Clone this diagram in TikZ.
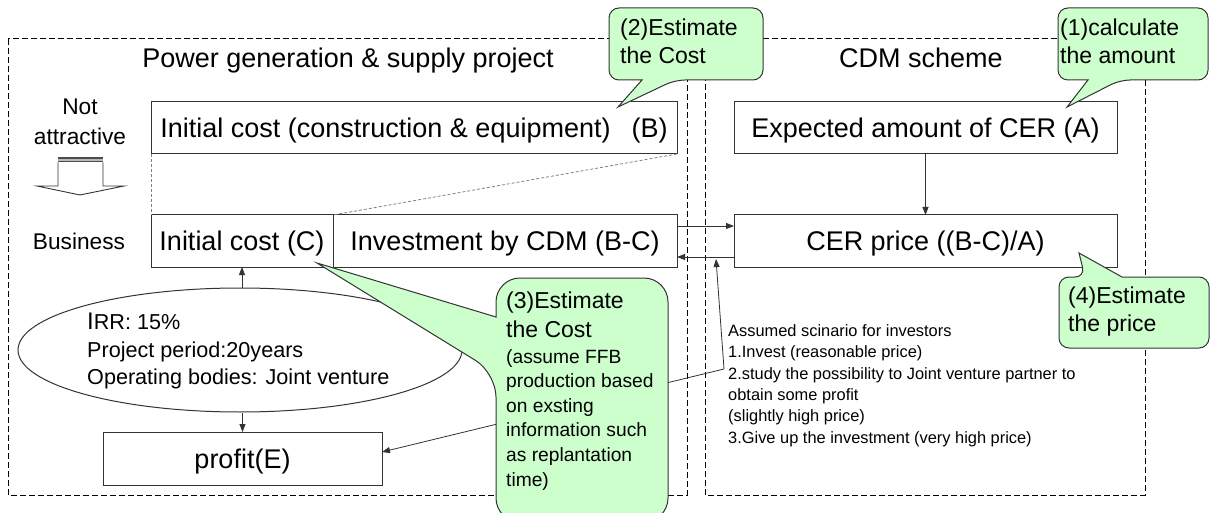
\documentclass[tikz,border=0pt]{standalone}
\usepackage{fontspec}
\setmainfont{Liberation Sans}
\usetikzlibrary{arrows.meta,shapes.geometric}
\definecolor{notegreen}{HTML}{CCFFCC}
\definecolor{edge}{HTML}{333333}
\newcommand{\setfs}[2]{\fontsize{#1}{#2}\selectfont}

\begin{document}
\begin{tikzpicture}[x=1pt,y=-1pt,
  box/.style={draw=edge, line width=1pt, inner sep=0pt, outer sep=0pt,
              font=\setfs{27}{32}, text height=19.5pt, text depth=0pt},
  frame/.style={draw=black, line width=1pt, dash pattern=on 6pt off 3pt},
  guide/.style={draw=gray, line width=0.8pt, dash pattern=on 3pt off 2pt},
  arr/.style={-{Triangle[length=8pt,width=6pt]}, line width=0.8pt, draw=edge},
  note/.style={fill=notegreen, draw=edge, line width=1pt},
  notetext/.style={anchor=north west, inner sep=0pt, align=left, font=\setfs{23}{28}},
  plain/.style={inner sep=0pt}
]
\useasboundingbox (0,0) rectangle (1210,513);
\clip (0,0) rectangle (1210,513);

% two dashed frames
\draw[frame] (8,39) rectangle (687,495);
\draw[frame] (705,39) rectangle (1145,495);

% frame titles
\node[plain, anchor=base, font=\setfs{27}{32}] (ptitle) at (348,68) {Power generation \& supply project};
\node[plain, anchor=base, font=\setfs{27}{32}] (ctitle) at (921,68) {CDM scheme};

% cost boxes
\node[box, minimum width=526pt, minimum height=52pt] (B) at (414,128)
  {Initial cost (construction \& equipment)\hspace{21pt}(B)};
\node[box, minimum width=182pt, minimum height=52pt] (C) at (242,241) {Initial cost (C)};
\node[box, minimum width=344pt, minimum height=52pt] (BC) at (505,241) {Investment by CDM (B-C)};
\node[box, minimum width=279pt, minimum height=53pt] (profit) at (242.5,458.5) {profit(E)};

% CDM boxes
\node[box, minimum width=383pt, minimum height=52pt] (A) at (925.5,128) {Expected amount of CER (A)};
\node[box, minimum width=383pt, minimum height=52pt] (CER) at (925.5,241) {CER price ((B-C)/A)};

% guide lines from B down to the split boxes
\draw[guide] (B.south west) -- (C.north west);
\draw[guide] (B.south east) -- (BC.north west);

% side labels and hollow arrow
\node[plain, anchor=north, align=center, font=\setfs{22.7}{30}] (notattr) at (80,98.7) {Not\\attractive};
\node[plain, anchor=base, font=\setfs{22.7}{30}] (business) at (79,249) {Business};
\fill[black!70] (58,157) rectangle (103,158.6);
\fill[gray!55] (58,158.6) rectangle (103,161);
\fill[black!70] (58,161) rectangle (103,162.5);
\draw[draw=edge, line width=0.9pt, fill=white]
  (58,162.5) -- (58,186) -- (37,186) -- (80,195) -- (124,186) -- (103,186) -- (103,162.5);

% project conditions
\node[draw=edge, line width=1pt, ellipse, minimum width=444pt, minimum height=124pt, inner sep=0pt] (terms) at (240,350) {};
\node[plain, anchor=north west, align=left, font=\setfs{21.6}{27.5}] (termstext) at (87,312.8)
  {{\fontsize{24}{24}\selectfont I}RR: 15\%\\Project period:20years\\Operating bodies: Joint venture};
\draw[arr] (terms.north -| C.south) -- (C.south);
\draw[arr] (terms.south -| profit.north) -- (profit.north);

% CDM flow
\draw[arr] (A) -- (CER);
\draw[arr] ([yshift=15pt]BC.east) -- ([yshift=15pt]CER.west);
\draw[arr] ([yshift=-16pt]CER.west) -- ([yshift=-16pt]BC.east);

% investor scenarios
\node[plain, anchor=north west, align=left, font=\setfs{16.4}{21.4}] (scen) at (728,324.3)
  {Assumed scinario for investors\\1.Invest (reasonable price)\\2.study the possibility to Joint venture partner to\\obtain some profit\\(slightly high price)\\3.Give up the investment (very high price)};
\coordinate (J) at (724,369);
\coordinate (upend) at (716,259);
\draw[arr] (J) -- (upend);
\draw[arr] (J) -- ([yshift=6.5pt]profit.east);

% callout (2)
\draw[note, rounded corners=10pt] (686,8) -- (763,8) -- (763,80) -- (675,80)
  [sharp corners] -- (618,107) -- (642,80) [rounded corners=10pt] -- (609,80) -- (609,8) -- cycle;
\node[notetext] (n2) at (620,18.3) {(2)Estimate\\the Cost};

% callout (1)
\draw[note, rounded corners=10pt] (1133,8) -- (1208,8) -- (1208,80) -- (1120,80)
  [sharp corners] -- (1067,107) -- (1088,80) [rounded corners=10pt] -- (1058,80) -- (1058,8) -- cycle;
\node[notetext] (n1) at (1060,18.3) {(1)calculate\\the amount};

% callout (4)
\draw[note, rounded corners=10pt] (1134,348) -- (1059,348) -- (1059,277) -- (1085,277)
  [sharp corners] -- (1079,253) -- (1122,277) [rounded corners=10pt] -- (1209,277) -- (1209,348) -- cycle;
\node[notetext] (n4) at (1068,286.3) {(4)Estimate\\the price};

% callout (3)
\draw[note, rounded corners=24pt] (582,278) -- (668,278) -- (668,522) -- (496,522) -- (496,373)
  [sharp corners] -- (317,263) -- (496,317) [rounded corners=24pt] -- (496,278) -- cycle;
\node[notetext, font=\setfs{23}{29}] (n3) at (506,291.3) {(3)Estimate\\the Cost};
\node[plain, anchor=north west, align=left, font=\setfs{19.2}{24.6}] (n3sub) at (506,349)
  {(assume FFB\\production based\\on exsting\\information such\\as replantation\\time)};
\end{tikzpicture}
\end{document}
